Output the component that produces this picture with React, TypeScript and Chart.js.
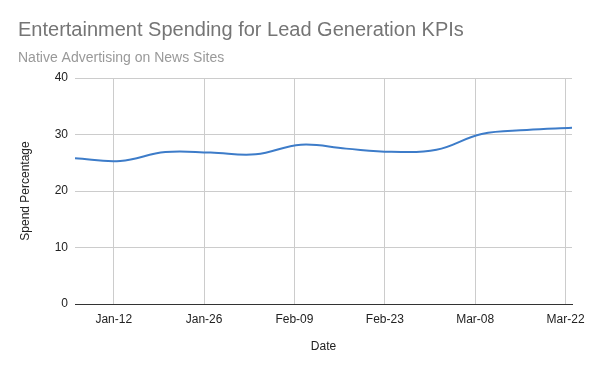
import React, { useEffect, useRef } from 'react';
import { Chart, registerables } from 'chart.js';
Chart.register(...registerables);

const chartTitle = 'Entertainment Spending for Lead Generation KPIs';
const chartSubtitle = 'Native Advertising on News Sites';
const xAxisTitle = 'Date';
const yAxisTitle = 'Spend Percentage';

const dates = [
  '2020-01-06', '2020-01-13', '2020-01-20', '2020-01-27',
  '2020-02-03', '2020-02-10', '2020-02-17', '2020-02-24',
  '2020-03-02', '2020-03-09', '2020-03-16', '2020-03-23',
];
const spendPercentage = [25.8, 25.3, 26.9, 26.8, 26.5, 28.2, 27.5, 26.95, 27.3, 30.1, 30.8, 31.2];

const xTickDates = ['2020-01-12', '2020-01-26', '2020-02-09', '2020-02-23', '2020-03-08', '2020-03-22'];
const xTickLabels = ['Jan-12', 'Jan-26', 'Feb-09', 'Feb-23', 'Mar-08', 'Mar-22'];
const yMin = 0;
const yMax = 40;
const yStep = 10;

const DAY = 86400000;
const toDay = (s: string) => Math.round(Date.parse(s) / DAY);

const FONT = "Arial, 'Liberation Sans', sans-serif";

const titlePlugin = {
  id: 'googleTitle',
  afterDraw(chart: any) {
    const ctx = chart.ctx;
    ctx.save();
    ctx.textAlign = 'left';
    ctx.textBaseline = 'alphabetic';
    ctx.fillStyle = '#757575';
    ctx.font = `20px ${FONT}`;
    ctx.fillText(chartTitle, 18, 36);
    ctx.fillStyle = '#999999';
    ctx.font = `14px ${FONT}`;
    ctx.fillText(chartSubtitle, 18, 62);
    ctx.restore();
  },
};

export default function App() {
  const ref = useRef<HTMLCanvasElement | null>(null);
  useEffect(() => {
    if (!ref.current) return;
    const points = dates.map((d, i) => ({ x: toDay(d), y: spendPercentage[i] }));
    const chart = new Chart(ref.current, {
      type: 'line',
      data: {
        datasets: [
          {
            label: yAxisTitle,
            data: points,
            borderColor: '#3d7cc9',
            backgroundColor: '#3d7cc9',
            borderWidth: 2,
            pointRadius: 0,
            tension: 0.4,
            fill: false,
          },
        ],
      },
      options: {
        animation: false,
        responsive: false,
        layout: { padding: { top: 78, right: 28, bottom: 0, left: 0 } },
        plugins: {
          legend: { display: false },
          tooltip: { enabled: false },
          title: { display: false },
        },
        scales: {
          x: {
            type: 'linear',
            min: toDay(dates[0]),
            max: toDay(dates[dates.length - 1]),
            afterBuildTicks: (scale: any) => {
              scale.ticks = xTickDates.map((d) => ({ value: toDay(d) }));
            },
            afterFit: (scale: any) => {
              scale.height = 67;
            },
            ticks: {
              autoSkip: false,
              maxRotation: 0,
              padding: 8,
              color: '#222222',
              font: { family: FONT, size: 12 },
              callback: (_v: any, i: number) => xTickLabels[i],
            },
            grid: { color: '#cccccc', drawTicks: false, lineWidth: 1 },
            border: { display: true, color: '#333333', width: 1 },
            title: {
              display: true,
              text: xAxisTitle,
              color: '#222222',
              font: { family: FONT, size: 12 },
              padding: { top: 0, bottom: 17 },
            },
          },
          y: {
            min: yMin,
            max: yMax,
            afterFit: (scale: any) => {
              scale.width = 75;
            },
            ticks: {
              stepSize: yStep,
              padding: 7,
              color: '#222222',
              font: { family: FONT, size: 12 },
            },
            grid: { color: '#cccccc', drawTicks: false, lineWidth: 1 },
            border: { display: false },
            title: {
              display: true,
              text: yAxisTitle,
              color: '#222222',
              font: { family: FONT, size: 12 },
              padding: { top: 18, bottom: 0 },
            },
          },
        },
      },
      plugins: [titlePlugin],
    } as any);
    return () => chart.destroy();
  }, []);
  return (
    <div style={{ position: 'absolute', left: 0, top: 0, width: 600, height: 371, background: '#fff' }}>
      <canvas ref={ref} width={600} height={371} style={{ display: 'block' }} />
    </div>
  );
}
